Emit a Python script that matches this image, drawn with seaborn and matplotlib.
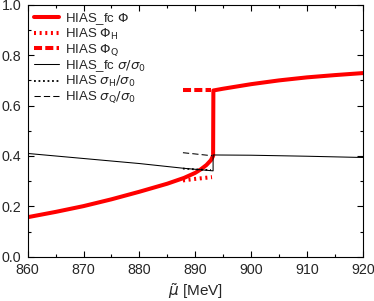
import numpy as np
import pandas as pd
import matplotlib
matplotlib.use("Agg")
import matplotlib.pyplot as plt
from matplotlib.ticker import MultipleLocator, FormatStrFormatter
import seaborn as sns

# HIAS_fc order parameter (with the first-order jump)
mu_phi_fc = [860, 865, 870, 875, 880, 885, 888, 890, 891, 892, 892.8, 893.2, 893.25,
             895, 900, 905, 910, 915, 920]
phi_fc = [0.157, 0.178, 0.201, 0.228, 0.258, 0.290, 0.313, 0.333, 0.347, 0.364, 0.383,
          0.400, 0.660, 0.667, 0.685, 0.700, 0.712, 0.721, 0.729]

# HIAS metastable branches
mu_phi_h = [887.8, 890, 893.0]
phi_h = [0.303, 0.309, 0.316]
mu_phi_q = [887.8, 890, 892.8]
phi_q = [0.660, 0.660, 0.660]

# sigma / sigma0
mu_sig_fc = [860, 870, 880, 888, 893.2, 893.2, 900, 910, 920]
sig_fc = [0.410, 0.390, 0.370, 0.351, 0.341, 0.404, 0.403, 0.399, 0.394]
mu_sig_h = [887.8, 890, 892.8]
sig_h = [0.350, 0.347, 0.344]
mu_sig_q = [887.8, 890, 893.0]
sig_q = [0.413, 0.408, 0.401]

sns.set_style("ticks")
plt.rcParams['font.family'] = ['Liberation Sans', 'DejaVu Sans']
plt.rcParams['mathtext.fontset'] = 'dejavusans'

fig = plt.figure(figsize=(3.74, 3.01), dpi=100)
ax = fig.add_axes([0.074, 0.147, 0.896, 0.837])

red = '#ff0000'
kw = dict(ax=ax, sort=False, estimator=None)
sns.lineplot(x=mu_phi_fc, y=phi_fc, color=red, linewidth=2.9, label=r'HIAS_fc $\Phi$', **kw)
sns.lineplot(x=mu_phi_h, y=phi_h, color=red, linewidth=2.9, linestyle=(0, (0.5, 0.9)),
             label=r'HIAS $\Phi_{\rm H}$', **kw)
sns.lineplot(x=mu_phi_q, y=phi_q, color=red, linewidth=2.9, linestyle=(0, (2.0, 0.8)),
             label=r'HIAS $\Phi_{\rm Q}$', **kw)
sns.lineplot(x=mu_sig_fc, y=sig_fc, color='black', linewidth=0.75,
             label=r'HIAS_fc $\sigma/\sigma_0$', **kw)
sns.lineplot(x=mu_sig_h, y=sig_h, color='black', linewidth=1.3, linestyle=(0, (1, 1.5)),
             label=r'HIAS $\sigma_{\rm H}/\sigma_0$', **kw)
sns.lineplot(x=mu_sig_q, y=sig_q, color='black', linewidth=0.75, linestyle=(0, (6, 3)),
             label=r'HIAS $\sigma_{\rm Q}/\sigma_0$', **kw)

ax.set_xlim(860, 920)
ax.set_ylim(0, 1.0)
ax.xaxis.set_major_locator(MultipleLocator(10))
ax.xaxis.set_minor_locator(MultipleLocator(5))
ax.yaxis.set_major_locator(MultipleLocator(0.2))
ax.yaxis.set_minor_locator(MultipleLocator(0.1))
ax.yaxis.set_major_formatter(FormatStrFormatter('%.1f'))
ax.tick_params(which='both', direction='in', top=True, right=True, labelsize=10.3,
               width=0.8, color='black')
ax.tick_params(which='major', length=4.5, pad=4.5)
ax.tick_params(which='minor', length=2.5)
for s in ax.spines.values():
    s.set_linewidth(0.8)
    s.set_color('black')
ax.set_xlabel(r'$\tilde{\mu}$ [MeV]', fontsize=11, labelpad=3)
ax.set_ylabel('')

ax.legend(loc='upper left', frameon=False, fontsize=9.5, handlelength=1.9,
          handletextpad=0.5, labelspacing=0.02, borderaxespad=0.2, borderpad=0.25)

fig.savefig('out.png', dpi=100)
